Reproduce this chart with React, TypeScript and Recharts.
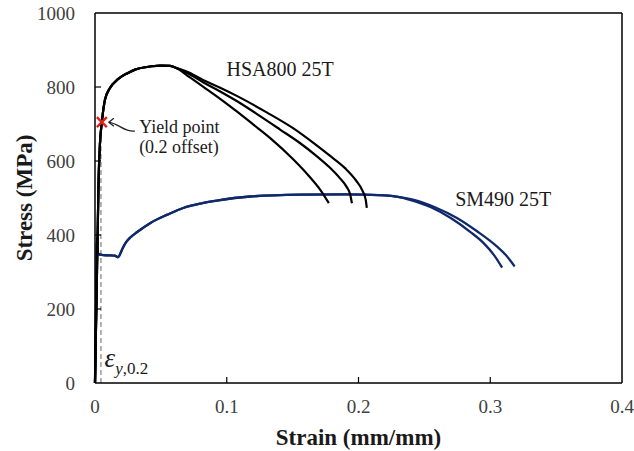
import { LineChart, Line, XAxis, YAxis, ReferenceLine, ReferenceDot } from 'recharts';

// strain (mm/mm), stress (MPa)
const hsaRise = [
    [0, 0], [0.0015, 300], [0.0028, 560], [0.0038, 650], [0.0052, 705], [0.0076, 766],
    [0.011, 795], [0.0177, 822], [0.025, 838], [0.0304, 847], [0.043, 856], [0.05, 858],
    [0.057, 857], [0.062, 851],
];
const hsaTail1 = [
    [0.07, 831], [0.082, 801], [0.095, 768], [0.1076, 734], [0.12, 699], [0.133, 662],
    [0.1506, 604], [0.162, 561], [0.171, 522], [0.1775, 486],
];
const hsaTail2 = [
    [0.07, 838], [0.082, 813], [0.095, 788], [0.1076, 762], [0.125, 722], [0.1405, 685],
    [0.155, 650], [0.168, 614], [0.178, 583], [0.186, 553], [0.191, 530], [0.1935, 512], [0.195, 486],
];
const hsaTail3 = [
    [0.07, 841], [0.082, 819], [0.095, 798], [0.1076, 776], [0.13, 732], [0.1506, 688],
    [0.165, 651], [0.178, 615], [0.19, 580], [0.198, 548], [0.203, 520], [0.2055, 495], [0.2063, 473],
];

const smRise = [
    [0, 0], [0.0008, 200], [0.0015, 392], [0.0022, 350], [0.005, 346], [0.01, 345],
    [0.015, 344], [0.0177, 340], [0.0195, 352], [0.021, 364], [0.0235, 380], [0.027, 394],
    [0.032, 408], [0.0418, 432], [0.055, 455], [0.067, 473], [0.08, 485], [0.0924, 493],
    [0.1177, 504], [0.1557, 509], [0.19, 510], [0.22, 507], [0.23, 503],
];
const smTail1 = [
    [0.239, 495], [0.255, 475], [0.27, 446], [0.285, 408], [0.295, 378], [0.303, 345], [0.309, 312],
];
const smTail2 = [
    [0.242, 495], [0.258, 475], [0.2747, 446], [0.29, 410], [0.305, 369], [0.312, 345], [0.3185, 315],
];

const xTicks = [0, 0.1, 0.2, 0.3, 0.4];
const yTicks = [0, 200, 400, 600, 800, 1000];

const yieldStrain = 0.0052;
const yieldStress = 705;
const offsetStrain = 0.0045;

const toPts = (arr: number[][]) => arr.map(([x, y]) => ({ x, y }));

const hsaCurves = [hsaTail1, hsaTail2, hsaTail3].map((t) => toPts([...hsaRise, ...t]));
const smCurves = [smTail1, smTail2].map((t) => toPts([...smRise, ...t]));

const FONT = '"Liberation Serif", "Times New Roman", serif';
const NAVY = '#10296b';

const XTick = (props: any) => {
    const { x, y, payload } = props;
    const last = payload.value === 0.4;
    return (
        <g>
            {!last && <line x1={x} x2={x} y1={y} y2={y - 6} stroke="#000" strokeWidth={1.2} />}
            <text x={x} y={y + 30} textAnchor="middle" fontFamily={FONT} fontSize={19} fill="#404040">
                {payload.value}
            </text>
        </g>
    );
};

const YTick = (props: any) => {
    const { x, y, payload } = props;
    const edge = payload.value === 0 || payload.value === 1000;
    return (
        <g>
            {!edge && <line x1={x} x2={x + 6} y1={y} y2={y} stroke="#000" strokeWidth={1.2} />}
            <text x={x - 20} y={y + 7} textAnchor="end" fontFamily={FONT} fontSize={19} fill="#404040">
                {payload.value}
            </text>
        </g>
    );
};

const TextAt = (txt: string, size: number, anchor: string) => (p: any) => (
    <text x={p.cx} y={p.cy} textAnchor={anchor} fontFamily={FONT} fontSize={size} fill="#1a1a1a">
        {txt}
    </text>
);

const YieldMark = (p: any) => {
    const { cx, cy } = p;
    const s = 5;
    return (
        <g>
            <line x1={cx - s} y1={cy - s} x2={cx + s} y2={cy + s} stroke="#e0201c" strokeWidth={2.4} />
            <line x1={cx - s} y1={cy + s} x2={cx + s} y2={cy - s} stroke="#e0201c" strokeWidth={2.4} />
            <path
                d={`M ${cx + 33} ${cy + 9} C ${cx + 22} ${cy + 10}, ${cx + 18} ${cy + 2}, ${cx + 7} ${cy}`}
                fill="none"
                stroke="#222"
                strokeWidth={1.3}
            />
            <path d={`M ${cx + 12} ${cy - 4} L ${cx + 7} ${cy} L ${cx + 12} ${cy + 4}`} fill="none" stroke="#222" strokeWidth={1.3} />
        </g>
    );
};

const EpsLabel = (p: any) => (
    <text x={p.cx} y={p.cy} fontFamily={FONT} fill="#1a1a1a">
        <tspan fontSize={27} fontStyle="italic">ε</tspan>
        <tspan fontSize={17} dy={7} fontStyle="italic">y</tspan>
        <tspan fontSize={17}>,0.2</tspan>
    </text>
);

export default function App() {
    return (
        <div style={{ position: 'absolute', left: 0, top: 0, background: '#fff' }}>
            <LineChart width={634} height={451} margin={{ top: 13, right: 12, left: 0, bottom: 0 }}>
                <XAxis
                    type="number"
                    dataKey="x"
                    domain={[0, 0.4]}
                    ticks={xTicks}
                    height={68}
                    tickSize={0}
                    tickMargin={0}
                    tickLine={false}
                    axisLine={{ stroke: '#000', strokeWidth: 1.5 }}
                    tick={<XTick />}
                    label={{
                        value: 'Strain (mm/mm)',
                        position: 'insideBottom',
                        offset: 6,
                        style: { fontFamily: FONT, fontSize: 23, fontWeight: 'bold', fill: '#1a1a1a' },
                    }}
                />
                <YAxis
                    type="number"
                    dataKey="y"
                    domain={[0, 1000]}
                    ticks={yTicks}
                    width={95}
                    tickSize={0}
                    tickMargin={0}
                    tickLine={false}
                    axisLine={{ stroke: '#000', strokeWidth: 1.5 }}
                    tick={<YTick />}
                    label={{
                        value: 'Stress (MPa)',
                        angle: -90,
                        position: 'insideLeft',
                        offset: 24,
                        style: { fontFamily: FONT, fontSize: 23, fontWeight: 'bold', fill: '#1a1a1a', textAnchor: 'middle' },
                    }}
                />
                <ReferenceLine y={1000} stroke="#000" strokeWidth={1.5} />
                <ReferenceLine x={0.4} stroke="#000" strokeWidth={1.5} />
                <ReferenceLine
                    segment={[{ x: offsetStrain, y: 0 }, { x: offsetStrain, y: yieldStress - 10 }]}
                    stroke="#9a9a9a"
                    strokeWidth={1.5}
                    strokeDasharray="5 3"
                />
                {smCurves.map((d, i) => (
                    <Line
                        key={'sm' + i}
                        data={d}
                        dataKey="y"
                        type="monotone"
                        stroke={NAVY}
                        strokeWidth={2.3}
                        dot={false}
                        isAnimationActive={false}
                    />
                ))}
                {hsaCurves.map((d, i) => (
                    <Line
                        key={'hsa' + i}
                        data={d}
                        dataKey="y"
                        type="monotone"
                        stroke="#000"
                        strokeWidth={2.2}
                        dot={false}
                        isAnimationActive={false}
                    />
                ))}
                <ReferenceDot x={yieldStrain} y={yieldStress} r={0} shape={YieldMark} />
                <ReferenceDot x={0.1405} y={829} r={0} shape={TextAt('HSA800 25T', 20, 'middle')} />
                <ReferenceDot x={0.2734} y={479} r={0} shape={TextAt('SM490 25T', 20, 'start')} />
                <ReferenceDot x={0.0335} y={677} r={0} shape={TextAt('Yield point', 18, 'start')} />
                <ReferenceDot x={0.0335} y={621} r={0} shape={TextAt('(0.2 offset)', 18, 'start')} />
                <ReferenceDot x={0.0072} y={44} r={0} shape={EpsLabel} />
            </LineChart>
        </div>
    );
}
